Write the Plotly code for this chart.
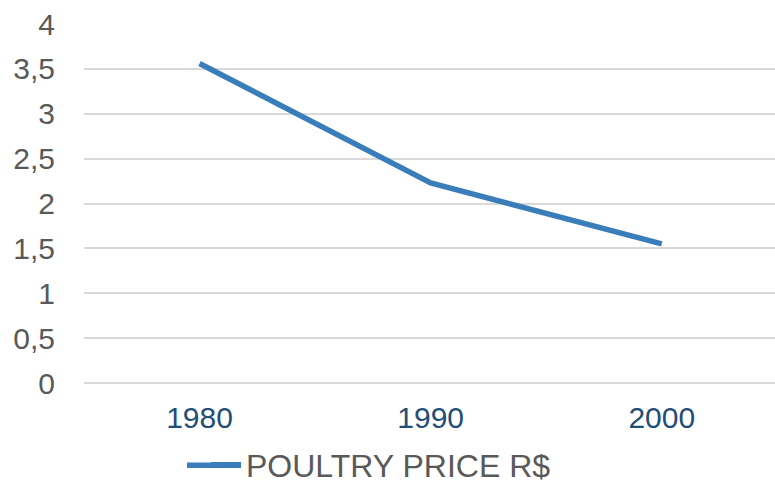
import plotly.graph_objects as go

years = ["1980", "1990", "2000"]
price = [3.56, 2.23, 1.55]
y_ticks = [0, 0.5, 1, 1.5, 2, 2.5, 3, 3.5, 4]
y_tick_text = ["0", "0,5", "1", "1,5", "2", "2,5", "3", "3,5", "4"]
series_name = "POULTRY PRICE R$"
line_color = "#3a7dbb"

L, T, B, R = 84, 24, 97, 0
W, H = 775, 480
PW = W - L - R
PH = H - T - B

fig = go.Figure()
fig.add_trace(go.Scatter(
    x=years, y=price, mode="lines", name=series_name,
    line=dict(color=line_color, width=5.5),
))

leg_y = (383 - 465) / PH
fig.update_layout(
    width=W, height=H,
    margin=dict(l=L, r=R, t=T, b=B, autoexpand=False),
    paper_bgcolor="white", plot_bgcolor="white",
    font=dict(family="Liberation Sans, Arial, sans-serif", size=30, color="#595959"),
    showlegend=True,
    legend=dict(orientation="h", x=(206 - L) / PW, xanchor="left", y=leg_y, yanchor="middle",
                font=dict(size=32, color="#595959"), bgcolor="rgba(0,0,0,0)"),
    shapes=[dict(type="line", xref="paper", yref="paper",
                 x0=(187 - L) / PW, x1=(241 - L) / PW, y0=(383 - 465.3) / PH, y1=(383 - 465.3) / PH,
                 line=dict(color=line_color, width=5.5))],
)
fig.update_xaxes(type="category", range=[-0.5, 2.49], showgrid=False, showline=False,
                 zeroline=False, tickfont=dict(size=30, color="#1f4e79"), ticks="",
                 ticklabelstandoff=14, automargin=False)
fig.update_yaxes(range=[0, 4], tickvals=y_ticks, ticktext=y_tick_text,
                 showgrid=True, gridcolor="#d9d9d9", gridwidth=1.5,
                 zeroline=True, zerolinecolor="#d9d9d9", zerolinewidth=1.5,
                 showline=False, ticks="", ticklabelstandoff=28, automargin=False,
                 tickfont=dict(size=30, color="#595959"))

fig.write_html("out.html", config={"displayModeBar": False},
               post_script="document.body.style.margin='0px';")
